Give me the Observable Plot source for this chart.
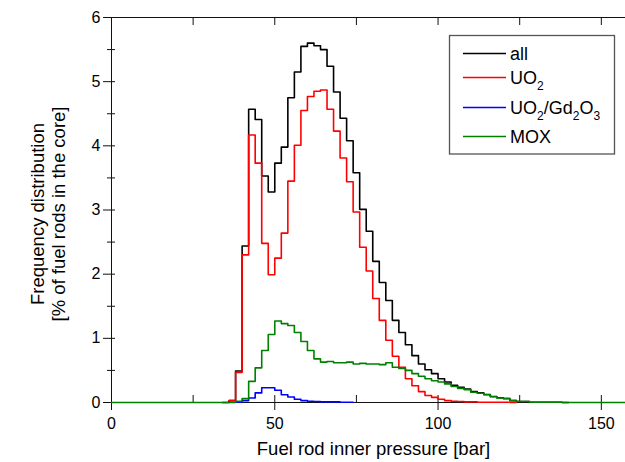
<!DOCTYPE html>
<html><head><meta charset="utf-8">
<script src="https://cdn.jsdelivr.net/npm/d3@7"></script>
<script src="https://cdn.jsdelivr.net/npm/@observablehq/plot@0.6"></script>
<style>
html,body{margin:0;padding:0;background:#fff;}
#wrap{position:relative;width:625px;height:462px;font-family:"Liberation Sans",Arial,sans-serif;}
#wrap svg{display:block;}
</style></head><body>
<div id="wrap"></div>
<script>
// ---- data ----
const bins = [34,36,38,40,42,44,46,48,50,52,
              54,56,58,60,62,64,66,68,70,72,
              74,76,78,80,82,84,86,88,90,92,
              94,96,98,100,102,104,106,108,110,112,
              114,116,118,120,122,124,126,128,130,132,
              134,136,138];
const allRods = [0,0.03,0.49,2.44,4.57,4.41,3.53,3.28,3.73,3.98,
                 4.75,5.15,5.55,5.60,5.56,5.50,5.24,4.84,4.43,4.08,
                 3.58,3.01,2.67,2.20,1.87,1.59,1.28,1.09,0.90,0.73,
                 0.60,0.51,0.45,0.37,0.32,0.27,0.235,0.21,0.17,0.15,
                 0.125,0.094,0.073,0.063,0.032,0.015,0.015,0.005,0.005,0.005,
                 0.005,0.005,0];
const uo2 = [null,0.03,0.47,2.30,4.17,3.73,2.48,1.99,2.25,2.64,
             3.45,4.01,4.55,4.77,4.85,4.87,4.57,4.23,3.81,3.44,
             2.97,2.42,2.05,1.62,1.28,0.97,0.72,0.55,0.37,0.26,
             0.17,0.11,0.08,0.05,0.03,0.02,0.015,0.01,0.01,0.005,
             0.005,0.004,0.003,0.003,0.002,null,null,null,null,null,
             null,null,null];
const uo2gd = [null,null,0.005,0.03,0.07,0.15,0.23,0.23,0.19,0.12,
               0.085,0.05,0.03,0.02,0.015,0.01,0.01,0.01,0.005,0.005,
               null,null,null,null,null,null,null,null,null,null,
               null,null,null,null,null,null,null,null,null,null,
               null,null,null,null,null,null,null,null,null,null,
               null,null,null];
const mox = [0,0,0.02,0.06,0.33,0.54,0.81,1.06,1.27,1.23,
             1.20,1.09,0.95,0.81,0.68,0.63,0.64,0.62,0.62,0.63,
             0.60,0.61,0.60,0.60,0.59,0.62,0.55,0.53,0.50,0.45,
             0.41,0.37,0.34,0.32,0.29,0.25,0.22,0.20,0.16,0.145,
             0.12,0.09,0.07,0.06,0.03,0.015,0.015,0.005,0.005,0.005,
             0.005,0.005,0];
const seriesNames = ["all", "UO2", "UO2/Gd2O3", "MOX"];
const seriesColors = ["#000000", "#ff0000", "#0000ff", "#008000"];
const xMajor = [0, 50, 100, 150];
const xMinor = [25, 75, 125];
const xTop = [0, 25, 50, 75, 100, 125, 150];
const yMajor = [0, 1, 2, 3, 4, 5, 6];
const yMinor = [0.5, 1.5, 2.5, 3.5, 4.5, 5.5];
const xLabel = "Fuel rod inner pressure [bar]";
const yLabel = "Frequency distribution\n[% of fuel rods in the core]";

// ---- build ----
const binWidth = 2;
const xDomain = [0, 157.4];
function stepPoints(vals, extend) {
  const pts = [];
  let last = -1;
  bins.forEach((b, i) => { if (vals[i] != null) { pts.push({x: b, y: vals[i]}); last = i; } });
  pts.push({x: bins[last] + binWidth, y: vals[last]});
  if (extend) { pts.unshift({x: xDomain[0], y: 0}); pts.push({x: xDomain[1], y: 0}); }
  return pts;
}
const seriesData = [stepPoints(allRods, false), stepPoints(uo2, false), stepPoints(uo2gd, false), stepPoints(mox, true)];

const plot = Plot.plot({
  width: 625, height: 462,
  marginLeft: 111, marginRight: 0, marginTop: 17, marginBottom: 60,
  x: {domain: xDomain},
  y: {domain: [0, 6]},
  style: {fontFamily: "'Liberation Sans', Arial, sans-serif", fontSize: "16px", color: "#000", background: "#fff"},
  marks: [
    Plot.axisY(yMajor, {tickSize: 12, dx: 4, tickPadding: 3, label: null, stroke: "#111", tickFormat: d => String(d)}),
    Plot.axisY(yMinor, {tickSize: 8, dx: 4, tickFormat: () => "", label: null, stroke: "#111"}),
    Plot.axisX(xMajor, {anchor: "bottom", tickSize: 15, dy: -7, tickPadding: 7, label: null, stroke: "#111", tickFormat: d => String(d)}),
    Plot.axisX(xMinor, {anchor: "bottom", tickSize: 7, dy: -7, tickFormat: () => "", label: null, stroke: "#111"}),
    Plot.axisX(xTop, {anchor: "top", tickSize: 7, dy: 7, tickFormat: () => "", label: null, stroke: "#111"}),
    Plot.ruleX([0], {stroke: "#111"}),
    Plot.ruleY([0, 6], {stroke: "#111"}),
    ...seriesData.map((d, i) => Plot.line(d, {x: "x", y: "y", curve: "step-after", stroke: seriesColors[i], strokeWidth: 1.6})),
    Plot.text([xLabel], {frameAnchor: "bottom", dy: 46.5, dx: 5, fontSize: 18.5, lineAnchor: "middle", textAnchor: "middle", text: d => d}),
    Plot.text([yLabel], {frameAnchor: "left", rotate: -90, dx: -63.5, dy: 4, fontSize: 18.5, lineHeight: 1.13, lineAnchor: "middle", textAnchor: "middle", text: d => d})
  ]
});
const wrap = document.getElementById("wrap");
wrap.appendChild(plot);

// ---- legend (overlay) ----
const leg = d3.select(wrap).append("svg")
  .attr("width", 625).attr("height", 462)
  .style("position", "absolute").style("left", "0px").style("top", "0px")
  .style("font-family", "'Liberation Sans', Arial, sans-serif");
leg.append("rect").attr("x", 449.5).attr("y", 35.5).attr("width", 165).attr("height", 118.5)
  .attr("fill", "#fff").attr("stroke", "#555").attr("stroke-width", 1.3);
const rowY = [53.5, 77.5, 107.5, 136.5];
seriesNames.forEach((name, i) => {
  const y = rowY[i];
  leg.append("line").attr("x1", 463).attr("x2", 506).attr("y1", y).attr("y2", y)
    .attr("stroke", seriesColors[i]).attr("stroke-width", 1.3);
  const t = leg.append("text").attr("x", 510).attr("y", y + 6.5).attr("font-size", 18).attr("fill", "#000");
  const parts = name.match(/[A-Za-z\/]+|\d+/g);
  let sub = false;
  parts.forEach(p => {
    const isDigit = /^\d+$/.test(p);
    const ts = t.append("tspan").text(p);
    if (isDigit && !sub) { ts.attr("dy", 6).attr("font-size", 12); sub = true; }
    else if (!isDigit && sub) { ts.attr("dy", -6); sub = false; }
  });
});
</script>
</body></html>
